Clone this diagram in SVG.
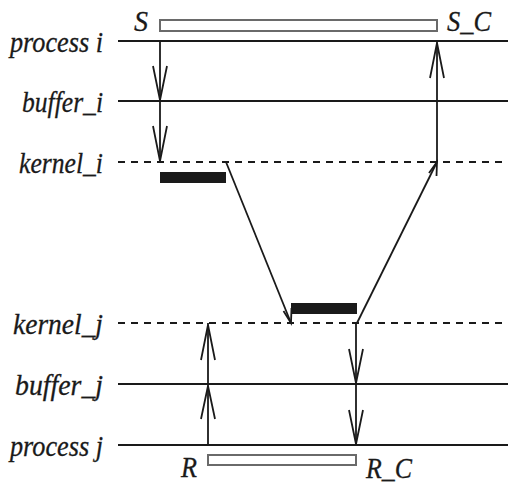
<svg xmlns="http://www.w3.org/2000/svg" width="508" height="483" viewBox="0 0 508 483">
<defs>
<style>
.lbl{font-family:"Liberation Serif","Times New Roman",serif;font-style:italic;font-size:30px;fill:#1a1a1a;stroke:#1a1a1a;stroke-width:0.3}
.ln{stroke:#1a1a1a;stroke-width:2;fill:none}
.dash{stroke:#1a1a1a;stroke-width:2;fill:none;stroke-dasharray:7 6}
.ar{stroke:#1a1a1a;stroke-width:1.8;fill:none}
.box{fill:#fff;stroke:#6a6a6a;stroke-width:2}
.bar{fill:#1a1a1a}
</style>
</defs>
<g id="timelines">
<g id="process_i"><line class="ln" x1="118" y1="41" x2="508" y2="41"/><text class="lbl" x="10" y="52" textLength="93" lengthAdjust="spacingAndGlyphs">process i</text></g>
<g id="buffer_i"><line class="ln" x1="118" y1="101" x2="508" y2="101"/><text class="lbl" x="22" y="112" textLength="81" lengthAdjust="spacingAndGlyphs">buffer_i</text></g>
<g id="kernel_i"><line class="dash" x1="118" y1="162" x2="508" y2="162"/><text class="lbl" x="19" y="173" textLength="84" lengthAdjust="spacingAndGlyphs">kernel_i</text></g>
<g id="kernel_j"><line class="dash" x1="118" y1="323" x2="508" y2="323"/><text class="lbl" x="13" y="334" textLength="90" lengthAdjust="spacingAndGlyphs">kernel_j</text></g>
<g id="buffer_j"><line class="ln" x1="118" y1="384" x2="508" y2="384"/><text class="lbl" x="15" y="395" textLength="88" lengthAdjust="spacingAndGlyphs">buffer_j</text></g>
<g id="process_j"><line class="ln" x1="118" y1="445" x2="508" y2="445"/><text class="lbl" x="10" y="456" textLength="93" lengthAdjust="spacingAndGlyphs">process j</text></g>
</g>
<g id="send">
<rect class="box" x="160" y="20" width="277" height="11"/>
<text class="lbl" x="134" y="31" textLength="14" lengthAdjust="spacingAndGlyphs">S</text>
<text class="lbl" x="447" y="31" textLength="44" lengthAdjust="spacingAndGlyphs">S_C</text>
</g>
<g id="recv">
<rect class="box" x="208" y="455" width="148" height="10"/>
<text class="lbl" x="181" y="477" textLength="16" lengthAdjust="spacingAndGlyphs">R</text>
<text class="lbl" x="366" y="478" textLength="46" lengthAdjust="spacingAndGlyphs">R_C</text>
</g>
<g id="kernel_bars">
<rect class="bar" x="160" y="172" width="66" height="11"/>
<rect class="bar" x="291" y="303" width="66" height="11"/>
</g>
<g id="connectors">
<line class="ar" x1="160" y1="41" x2="160" y2="162"/>
<polyline class="ar" points="153,66 160,100 167,66"/>
<polyline class="ar" points="153,126 160,161 167,126"/>
<line class="ar" x1="226" y1="162" x2="291" y2="323"/>
<polyline class="ar" points="283.5,311 291,323 291.5,308"/>
<line class="ar" x1="357" y1="323" x2="437" y2="162"/>
<polyline class="ar" points="429,173 437,162 436.5,176"/>
<line class="ar" x1="437" y1="162" x2="437" y2="41"/>
<polyline class="ar" points="430,78 437,43 444,78"/>
<line class="ar" x1="208" y1="445" x2="208" y2="323"/>
<polyline class="ar" points="201,419 208,386 215,419"/>
<polyline class="ar" points="201,360 208,325 215,360"/>
<line class="ar" x1="356" y1="323" x2="356" y2="445"/>
<polyline class="ar" points="349,349 356,383 363,349"/>
<polyline class="ar" points="349,410 356,444 363,410"/>
</g>
</svg>
